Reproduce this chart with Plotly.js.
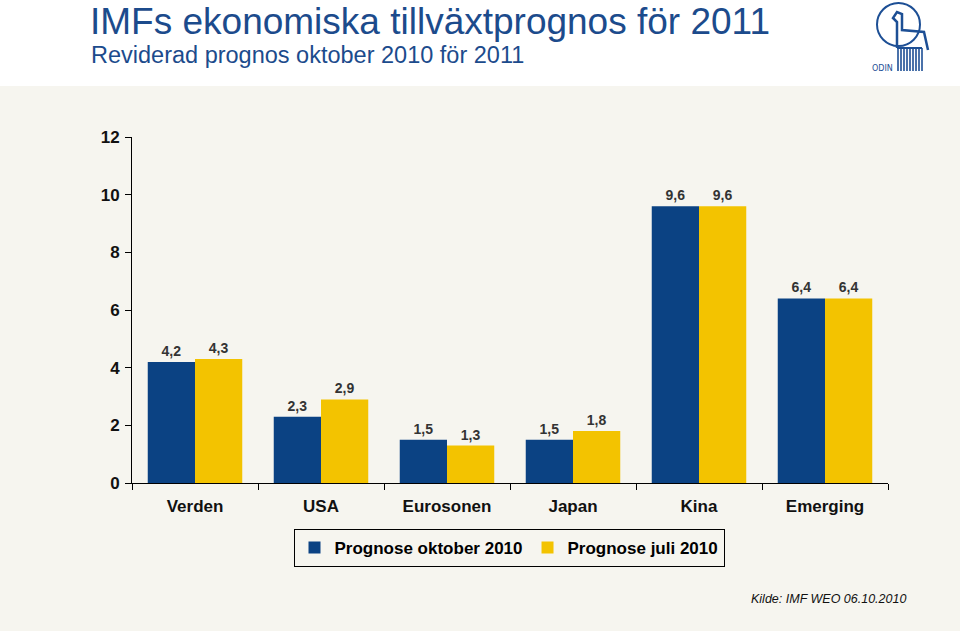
<!DOCTYPE html>
<html>
<head>
<meta charset="utf-8">
<script src="https://cdn.plot.ly/plotly-3.0.1.min.js"></script>
<style>html,body{margin:0;padding:0;background:#f6f5ef;}#chart{width:960px;height:631px;}</style>
</head>
<body>
<div id="chart"></div>
<script>
var categories = ["Verden", "USA", "Eurosonen", "Japan", "Kina", "Emerging"];
var oktober2010 = [4.2, 2.3, 1.5, 1.5, 9.6, 6.4];
var juli2010 = [4.3, 2.9, 1.3, 1.8, 9.6, 6.4];
var seriesNames = ["Prognose oktober 2010", "Prognose juli 2010"];
var yTicks = [0, 2, 4, 6, 8, 10, 12];

function fmt(v){ return v.toFixed(1).replace('.', ','); }

var L = 132, R = 72, T = 137, B = 148, W = 960, H = 631;
var pw = W - L - R, ph = H - T - B;
function px(x){ return (x - L) / pw; }
function py(y){ return (H - B - y) / ph; }

var labelFont = {family: "Liberation Sans, Arial, sans-serif", size: 14, color: "#333333", weight: "bold"};
var logoColor = "#1d4f95";

var traces = [
  {type: "bar", x: categories, y: oktober2010, name: seriesNames[0],
   marker: {color: "#0b4283", line: {width: 0}},
   text: oktober2010.map(fmt), textposition: "outside", cliponaxis: false,
   textfont: labelFont, hoverinfo: "skip"},
  {type: "bar", x: categories, y: juli2010, name: seriesNames[1],
   marker: {color: "#f3c300", line: {width: 0}},
   text: juli2010.map(fmt), textposition: "outside", cliponaxis: false,
   textfont: labelFont, hoverinfo: "skip"}
];

var shapes = [
  {type: "rect", xref: "paper", yref: "paper", x0: px(0), x1: px(960), y0: py(86), y1: py(0),
   fillcolor: "#ffffff", line: {width: 0}, layer: "below"},
  {type: "circle", xref: "paper", yref: "paper", x0: px(877), x1: px(920), y0: py(46), y1: py(3),
   line: {color: logoColor, width: 2}, fillcolor: "rgba(0,0,0,0)"},
  {type: "path", xref: "paper", yref: "paper",
   path: "M " + px(897) + "," + py(48) + " L " + px(897) + "," + py(22) + " L " + px(893) + "," + py(18) +
         " L " + px(897) + "," + py(12) + " L " + px(902) + "," + py(14) + " L " + px(902) + "," + py(30) +
         " L " + px(924) + "," + py(32) + " L " + px(928) + "," + py(50),
   line: {color: logoColor, width: 2.5}, fillcolor: "rgba(0,0,0,0)"},
  {type: "line", xref: "paper", yref: "paper", x0: px(897), x1: px(922), y0: py(48), y1: py(48),
   line: {color: logoColor, width: 2}}
];
for (var i = 0; i < 9; i++) {
  var xx = 898 + i * 3;
  shapes.push({type: "line", xref: "paper", yref: "paper", x0: px(xx), x1: px(xx), y0: py(48), y1: py(71),
    line: {color: logoColor, width: 1.6}});
}

var layout = {
  width: W, height: H,
  margin: {l: L, r: R, t: T, b: B, pad: 0},
  paper_bgcolor: "#f6f5ef", plot_bgcolor: "#f6f5ef",
  barmode: "group", bargap: 0.25, bargroupgap: 0,
  showlegend: true,
  legend: {orientation: "h", x: px(509), xanchor: "center", y: py(548), yanchor: "middle",
    bgcolor: "#f6f5ef", bordercolor: "#000000", borderwidth: 1,
    font: {family: "Liberation Sans, Arial, sans-serif", size: 17, color: "#000000", weight: "bold"},
    itemwidth: 30, tracegroupgap: 0},
  font: {family: "Liberation Sans, Arial, sans-serif"},
  xaxis: {type: "category", showline: true, linecolor: "#000000", linewidth: 1,
    ticks: "outside", tickson: "boundaries", ticklen: 6, tickcolor: "#000000",
    ticklabelstandoff: 8,
    tickfont: {size: 17, color: "#111111", weight: "bold"}, showgrid: false, fixedrange: true},
  yaxis: {range: [0, 12], tickvals: yTicks, ticktext: yTicks.map(String), showline: true,
    linecolor: "#000000", linewidth: 1, ticks: "outside", ticklen: 6, tickcolor: "#000000",
    ticklabelstandoff: 2,
    tickfont: {size: 17, color: "#111111", weight: "bold"}, showgrid: false, zeroline: false,
    fixedrange: true},
  shapes: shapes,
  annotations: [
    {text: "IMFs ekonomiska tillväxtprognos för 2011", xref: "paper", yref: "paper",
     x: px(89), y: py(0), xanchor: "left", yanchor: "top", showarrow: false, borderpad: 0,
     font: {family: "Liberation Sans, Arial, sans-serif", size: 37, color: "#1c4b8c"}},
    {text: "Reviderad prognos oktober 2010 för 2011", xref: "paper", yref: "paper",
     x: px(90), y: py(41), xanchor: "left", yanchor: "top", showarrow: false, borderpad: 0,
     font: {family: "Liberation Sans, Arial, sans-serif", size: 23.5, color: "#1c4b8c"}},
    {text: "ODIN", xref: "paper", yref: "paper", x: px(882), y: py(68), xanchor: "center",
     yanchor: "middle", showarrow: false,
     font: {family: "DejaVu Sans, sans-serif", size: 8, color: logoColor}},
    {text: "<i>Kilde: IMF WEO 06.10.2010</i>", xref: "paper", yref: "paper",
     x: px(908), y: py(599), xanchor: "right", yanchor: "middle", showarrow: false,
     font: {family: "Liberation Sans, Arial, sans-serif", size: 12.5, color: "#111111"}}
  ]
};

Plotly.newPlot("chart", traces, layout, {displayModeBar: false, staticPlot: true});
</script>
</body>
</html>
